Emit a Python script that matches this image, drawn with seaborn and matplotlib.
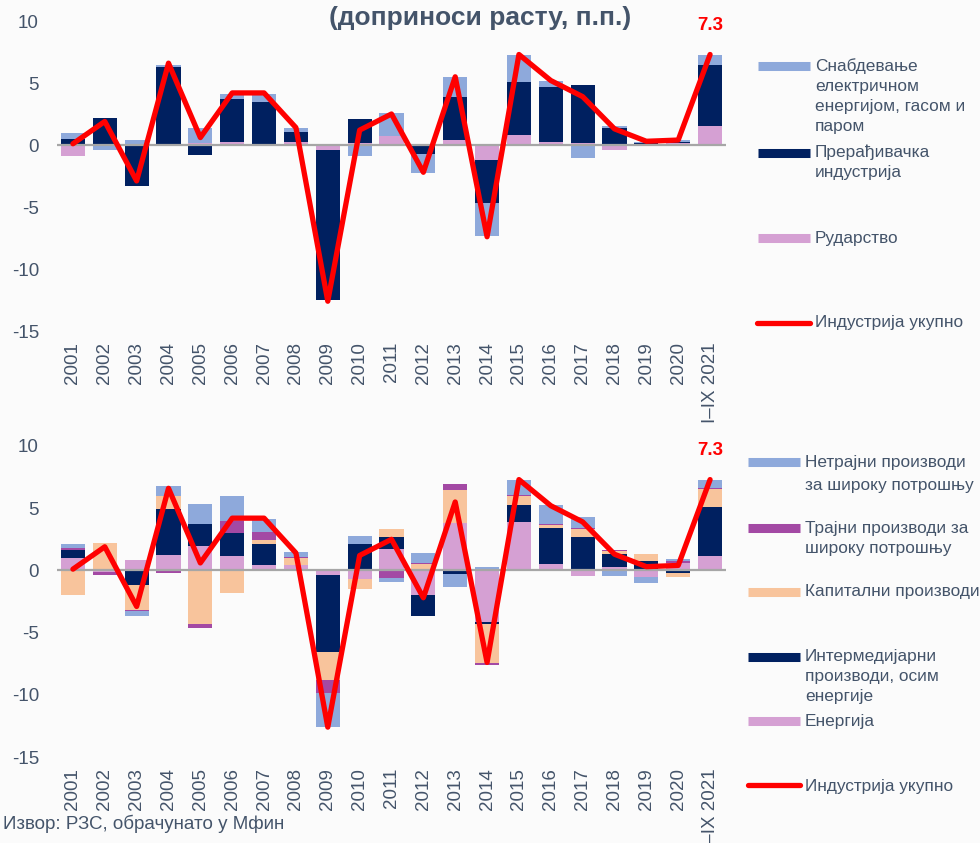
import numpy as np
import pandas as pd
import matplotlib
matplotlib.use("Agg")
import matplotlib.pyplot as plt
import seaborn as sns
from matplotlib.lines import Line2D

# ---------------- data ----------------
years = ["2001", "2002", "2003", "2004", "2005", "2006", "2007", "2008", "2009", "2010",
         "2011", "2012", "2013", "2014", "2015", "2016", "2017", "2018", "2019", "2020",
         "I–IX 2021"]

total = [0.1, 1.9, -2.9, 6.6, 0.6, 4.2, 4.2, 1.4, -12.6, 1.2,
         2.5, -2.2, 5.5, -7.4, 7.3, 5.2, 3.9, 1.3, 0.3, 0.4, 7.3]

# top chart: sectors (stack order bottom -> top)
mining = [-0.85, 0.0, 0.0, 0.0, 0.2, 0.24, 0.0, 0.27, -0.37, 0.2,
          0.75, 0.0, 0.4, -1.2, 0.83, 0.24, 0.16, -0.37, 0.0, 0.16, 1.55]
manufacturing = [0.5, 2.16, -3.3, 6.3, -0.77, 3.44, 3.5, 0.8, -12.1, 1.9,
                 -0.1, -0.72, 3.5, -3.45, 4.27, 4.4, 4.67, 1.36, 0.2, 0.1, 4.88]
energy_supply = [0.48, -0.37, 0.43, 0.16, 1.15, 0.4, 0.6, 0.32, 0.0, -0.9,
                 1.8, -1.5, 1.55, -2.65, 2.13, 0.5, -1.04, 0.19, 0.08, 0.13, 0.8]

# bottom chart: purpose groups (stack order bottom -> top)
energy = [1.0, -0.13, 0.85, 1.2, 1.93, 1.13, 0.46, 0.46, -0.35, -0.72,
          1.69, -2.0, 3.83, -4.13, 3.89, 0.54, -0.48, 0.3, -0.5, 0.59, 1.15]
intermediate = [0.6, 0.13, -1.2, 3.75, 1.77, 1.88, 1.69, 0.0, -6.22, 2.09,
                1.0, -1.7, -0.3, -0.2, 1.37, 2.9, 2.71, 1.05, 0.75, -0.19, 3.94]
capital = [-1.95, 2.07, -2.0, 1.07, -4.34, -1.8, 0.27, 0.56, -2.22, -0.75,
           0.62, 0.48, 2.63, -3.08, 0.72, 0.19, 0.64, 0.2, 0.54, -0.35, 1.47]
durable = [0.2, -0.22, -0.1, -0.2, -0.27, 0.97, 0.67, 0.05, -1.05, 0.0,
           -0.59, 0.13, 0.46, -0.2, 0.05, 0.13, 0.08, 0.08, 0.0, 0.16, 0.08]
nondurable = [0.3, 0.0, -0.4, 0.8, 1.6, 2.04, 1.07, 0.4, -2.76, 0.67,
              -0.32, 0.8, -1.07, 0.27, 1.23, 1.47, 0.86, -0.46, -0.51, 0.19, 0.62]

last_label = "7.3"

# ---------------- style ----------------
LB = "#8EA9DB"
NAVY = "#002060"
PINK = "#D5A0D3"
PURPLE = "#A349A4"
PEACH = "#F8C49C"
RED = "#FF0000"
TXT = "#44546A"
BG = "#FBFBFB"

sns.set_theme(style="white")
plt.rcParams["font.family"] = ["Liberation Sans", "DejaVu Sans"]

W, H = 980, 843
fig = plt.figure(figsize=(W / 100, H / 100), dpi=100, facecolor=BG)


def fx(x):
    return x / W


def fy(y):
    return 1 - y / H


def stacked(ax, series, colors):
    arr = np.array(series, dtype=float)
    pos = np.cumsum(np.clip(arr, 0, None), axis=0)
    neg = np.cumsum(np.clip(arr, None, 0), axis=0)
    n = arr.shape[0]
    for i in range(n - 1, -1, -1):
        for cum in (pos, neg):
            df = pd.DataFrame({"year": years, "v": cum[i]})
            sns.barplot(data=df, x="year", y="v", order=years, color=colors[i],
                        saturation=1, width=0.76, errorbar=None, ax=ax,
                        linewidth=0)


def style_axes(ax):
    ax.set_facecolor(BG)
    ax.axhline(0, color="#A6A6A6", lw=1.6, zorder=3)
    x = np.arange(len(years))
    sns.lineplot(x=x, y=total, color=RED, lw=3.8, ax=ax, zorder=5,
                 solid_joinstyle="round", solid_capstyle="round")
    ax.annotate(last_label, (x[-1], total[-1]), xytext=(0, 15),
                textcoords="offset points", ha="center", va="bottom",
                color=RED, fontsize=13.5, fontweight="bold")
    ax.set_xlim(-0.5, len(years) - 0.5)
    ax.set_ylim(-15, 10)
    ax.set_yticks([-15, -10, -5, 0, 5, 10])
    ax.set_yticklabels(["-15", "-10", "-5", "0", "5", "10"])
    ax.set_xticks(x)
    ax.set_xticklabels(years, rotation=90)
    ax.tick_params(axis="both", length=0, colors=TXT, labelsize=13.5)
    ax.tick_params(axis="y", pad=13)
    ax.tick_params(axis="x", pad=8)
    ax.set_xlabel("")
    ax.set_ylabel("")
    for s in ax.spines.values():
        s.set_visible(False)


# top chart
ax1 = fig.add_axes([fx(57), fy(331), fx(669), (331 - 21) / H])
stacked(ax1, [mining, manufacturing, energy_supply], [PINK, NAVY, LB])
style_axes(ax1)

# bottom chart
ax2 = fig.add_axes([fx(57), fy(757), fx(669), (757 - 446) / H])
stacked(ax2, [energy, intermediate, capital, durable, nondurable],
        [PINK, NAVY, PEACH, PURPLE, LB])
style_axes(ax2)

# title (second line visible)
fig.text(fx(480), fy(18), "(доприноси расту, п.п.)", ha="center", va="center",
         fontsize=19, fontweight="bold", color=TXT)


# legends
def legend_entry(hx0, hx1, hy, tx, lines, color, is_line=False):
    if is_line:
        fig.add_artist(Line2D([fx(hx0), fx(hx1)], [fy(hy), fy(hy)], color=color,
                              lw=3.8, solid_capstyle="round",
                              transform=fig.transFigure))
    else:
        fig.add_artist(Line2D([fx(hx0), fx(hx1)], [fy(hy), fy(hy)], color=color,
                              lw=6.5, solid_capstyle="butt",
                              transform=fig.transFigure))
    for text, ty in lines:
        fig.text(fx(tx), fy(ty), text, ha="left", va="center", fontsize=12.4,
                 color=TXT)


legend_entry(758, 810, 66, 815, [("Снабдевање", 66), ("електричном", 87),
                                 ("енергијом, гасом и", 107), ("паром", 127)], LB)
legend_entry(758, 810, 152.5, 815, [("Прерађивачка", 152.5), ("индустрија", 172.5)], NAVY)
legend_entry(758, 810, 237.5, 815, [("Рударство", 238)], PINK)
legend_entry(757, 810, 323, 815, [("Индустрија укупно", 323)], RED, is_line=True)

legend_entry(748, 800, 462.5, 805, [("Нетрајни производи", 462.5),
                                   ("за широку потрошњу", 485)], LB)
legend_entry(748, 800, 527.5, 805, [("Трајни производи за", 528),
                                   ("широку потрошњу", 548)], PURPLE)
legend_entry(748, 800, 591.5, 805, [("Капитални производи", 591.5)], PEACH)
legend_entry(748, 800, 656.5, 805, [("Интермедијарни", 657), ("производи, осим", 677),
                                   ("енергије", 697)], NAVY)
legend_entry(748, 800, 721, 805, [("Енергија", 721.5)], PINK)
legend_entry(748, 800, 785, 805, [("Индустрија укупно", 786.5)], RED, is_line=True)

# source
fig.text(fx(3), fy(824), "Извор: РЗС, обрачунато у Мфин", ha="left", va="center",
         fontsize=13.5, color=TXT)

fig.savefig("out.png", dpi=100, facecolor=BG)
